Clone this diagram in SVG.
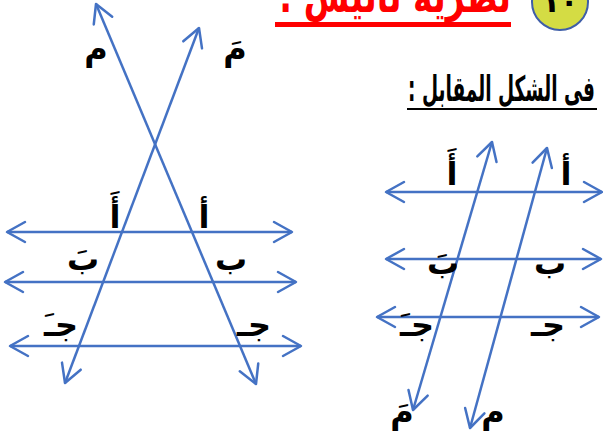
<svg xmlns="http://www.w3.org/2000/svg" width="603" height="439" viewBox="0 0 603 439">
<defs>
<marker id="ah" markerUnits="userSpaceOnUse" viewBox="-20 -12 22 24" markerWidth="22" markerHeight="24" refX="0" refY="0" orient="auto-start-reverse" overflow="visible">
<path d="M-18,-10 L0,0 L-18,10" fill="none" stroke="#4472C4" stroke-width="2.5" stroke-linejoin="round" stroke-linecap="round"/>
</marker>
<style>
.ln{stroke:#4472C4;stroke-width:2.5;fill:none;marker-start:url(#ah);marker-end:url(#ah)}
.lb{font-family:"DejaVu Sans",sans-serif;font-weight:bold;font-size:32px;fill:#000;text-anchor:middle}
</style>
</defs>
<rect width="603" height="439" fill="#fff"/>
<g id="title">
<text x="511" y="12" font-family="'DejaVu Sans',sans-serif" font-weight="bold" font-size="44" fill="#f00" text-anchor="start" direction="rtl" textLength="232" lengthAdjust="spacingAndGlyphs">نظرية تاليس :</text>
<rect x="275" y="22" width="236" height="5" fill="#f00"/>
</g>
<g id="badge">
<circle cx="560" cy="2" r="28" fill="#d4dc44" stroke="#3f5ea8" stroke-width="2"/>
<text x="560" y="12" font-family="'DejaVu Sans',sans-serif" font-weight="bold" font-size="30" text-anchor="middle">١٠</text>
</g>
<g id="subtitle">
<text x="595" y="101" font-family="'DejaVu Sans',sans-serif" font-weight="bold" font-size="35" text-anchor="start" direction="rtl" textLength="187" lengthAdjust="spacingAndGlyphs">فى الشكل المقابل :</text>
<rect x="407" y="108" width="190" height="2" fill="#000"/>
</g>
<g id="connectors">
<line class="ln" x1="96" y1="4" x2="256" y2="384"/>
<line class="ln" x1="199" y1="28" x2="65" y2="383"/>
<line class="ln" x1="7" y1="232" x2="292" y2="232"/>
<line class="ln" x1="5" y1="282" x2="296" y2="282"/>
<line class="ln" x1="10" y1="346" x2="301" y2="346"/>
<line class="ln" x1="492" y1="142" x2="413" y2="410"/>
<line class="ln" x1="547" y1="148" x2="470" y2="428"/>
<line class="ln" x1="386" y1="192" x2="602" y2="192"/>
<line class="ln" x1="386" y1="259" x2="601" y2="259"/>
<line class="ln" x1="377" y1="317" x2="599" y2="317"/>
</g>
<g id="labels-left">
<text class="lb" x="96" y="60">م</text>
<text class="lb" x="235" y="60">مَ</text>
<text class="lb" x="115" y="228">أَ</text>
<text class="lb" x="204" y="228">أ</text>
<text class="lb" x="83" y="270">بَ</text>
<text class="lb" x="231" y="270">ب</text>
<text class="lb" x="61" y="336">جـَ</text>
<text class="lb" x="254" y="336">جـ</text>
</g>
<g id="labels-right">
<text class="lb" x="452" y="185">أَ</text>
<text class="lb" x="566" y="185">أ</text>
<text class="lb" x="443" y="274">بَ</text>
<text class="lb" x="550" y="274">ب</text>
<text class="lb" x="417" y="336">جـَ</text>
<text class="lb" x="548" y="336">جـ</text>
<text class="lb" x="402" y="423">مَ</text>
<text class="lb" x="493" y="423">م</text>
</g>
</svg>
